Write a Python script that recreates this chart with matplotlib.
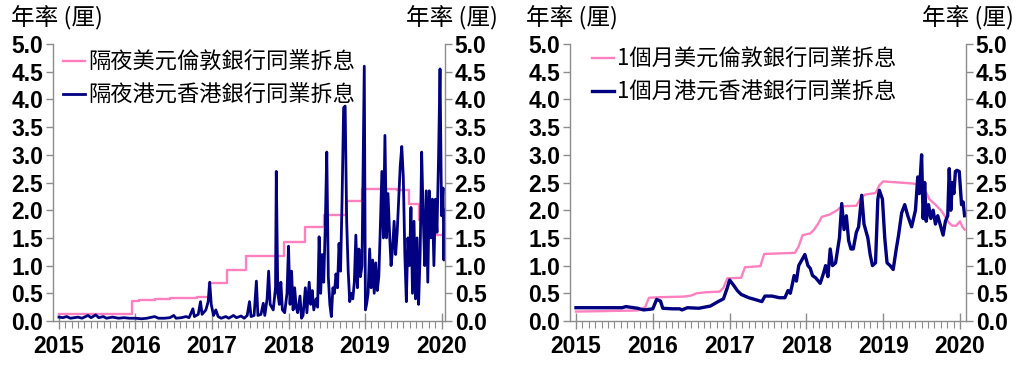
import matplotlib
matplotlib.use("Agg")
import matplotlib.pyplot as plt
from matplotlib.ticker import MultipleLocator, FixedLocator

# ---------------- data (decimal years, % per annum) ----------------
years = [2015, 2016, 2017, 2018, 2019, 2020]
y_ticks = [0.0, 0.5, 1.0, 1.5, 2.0, 2.5, 3.0, 3.5, 4.0, 4.5, 5.0]

on_usd_t = [2015.00, 2015.96, 2016.05, 2016.25, 2016.45, 2016.60, 2016.80, 2016.96,
            2017.20, 2017.45, 2017.94, 2018.22, 2018.46, 2018.75, 2018.96, 2019.30,
            2019.42, 2019.58, 2019.71, 2019.84, 2020.05]
on_usd_v = [0.13, 0.37, 0.38, 0.39, 0.41, 0.42, 0.43, 0.68,
            0.92, 1.17, 1.43, 1.69, 1.92, 2.17, 2.38, 2.39,
            2.36, 2.11, 1.83, 1.55, 1.55]

on_hkd_t = [2015.00, 2015.05, 2015.10, 2015.15, 2015.20, 2015.25, 2015.30, 2015.38, 2015.42,
            2015.48, 2015.52, 2015.58, 2015.62, 2015.70, 2015.78, 2015.85, 2015.92, 2016.00,
            2016.08, 2016.15, 2016.25, 2016.30, 2016.38, 2016.45, 2016.50, 2016.53, 2016.60,
            2016.66, 2016.70, 2016.75, 2016.77, 2016.82, 2016.85, 2016.87, 2016.92, 2016.95,
            2016.97, 2016.99, 2017.02, 2017.05, 2017.08, 2017.12, 2017.18, 2017.22, 2017.28,
            2017.32, 2017.38, 2017.42, 2017.46, 2017.49, 2017.51, 2017.55, 2017.58, 2017.60,
            2017.64, 2017.67, 2017.69, 2017.72, 2017.74, 2017.76, 2017.80, 2017.83, 2017.84,
            2017.86, 2017.88, 2017.90, 2017.92, 2017.95, 2017.98, 2018.00, 2018.02, 2018.04,
            2018.06, 2018.08, 2018.10, 2018.12, 2018.15, 2018.17, 2018.19, 2018.22, 2018.24,
            2018.27, 2018.29, 2018.31, 2018.33, 2018.36, 2018.38, 2018.40, 2018.42, 2018.44,
            2018.46, 2018.48, 2018.50, 2018.52, 2018.54, 2018.56, 2018.58, 2018.60, 2018.62,
            2018.64, 2018.66, 2018.68, 2018.70, 2018.72, 2018.74, 2018.76, 2018.78, 2018.80,
            2018.82, 2018.84, 2018.86, 2018.88, 2018.90, 2018.92, 2018.94, 2018.96, 2018.975,
            2018.99, 2019.005, 2019.02, 2019.04, 2019.06, 2019.08, 2019.10, 2019.12, 2019.14,
            2019.16, 2019.18, 2019.20, 2019.22, 2019.24, 2019.26, 2019.28, 2019.30, 2019.32,
            2019.34, 2019.36, 2019.38, 2019.40, 2019.42, 2019.44, 2019.46, 2019.48, 2019.50,
            2019.52, 2019.54, 2019.56, 2019.58, 2019.60, 2019.62, 2019.64, 2019.66, 2019.68,
            2019.70, 2019.72, 2019.74, 2019.76, 2019.78, 2019.80, 2019.82, 2019.84, 2019.86,
            2019.88, 2019.90, 2019.92, 2019.94, 2019.96, 2019.98, 2020.00, 2020.02, 2020.03,
            2020.04]
on_hkd_v = [0.07, 0.06, 0.08, 0.05, 0.06, 0.07, 0.05, 0.10, 0.06,
            0.11, 0.06, 0.08, 0.05, 0.07, 0.05, 0.06, 0.05, 0.05,
            0.04, 0.05, 0.08, 0.05, 0.05, 0.06, 0.10, 0.05, 0.06,
            0.08, 0.06, 0.22, 0.08, 0.12, 0.35, 0.12, 0.20, 0.35,
            0.70, 0.30, 0.10, 0.20, 0.08, 0.05, 0.08, 0.05, 0.10,
            0.06, 0.09, 0.05, 0.10, 0.35, 0.08, 0.10, 0.72, 0.10,
            0.12, 0.32, 0.10, 0.40, 0.90, 0.30, 0.20, 0.60, 2.70,
            0.50, 0.30, 0.70, 0.20, 0.15, 0.50, 1.35, 0.30, 0.90,
            0.20, 0.60, 0.25, 0.15, 0.45, 0.05, 0.10, 0.60, 0.15,
            0.70, 0.30, 0.55, 0.20, 0.40, 0.25, 1.52, 0.50, 1.20,
            0.70, 1.70, 3.05, 0.80, 0.30, 0.08, 0.60, 0.50, 0.85,
            0.60, 1.40, 0.90, 2.20, 3.85, 3.88, 1.80, 0.90, 0.35,
            0.50, 0.40, 0.70, 1.55, 0.60, 1.30, 0.80, 1.00, 2.85,
            4.60, 0.20, 0.30, 0.50, 1.30, 0.60, 1.10, 0.50, 1.05,
            0.55, 0.80, 1.70, 2.70, 1.50, 3.35, 1.50, 2.30, 1.60,
            1.00, 1.30, 1.80, 1.20, 1.60, 2.20, 2.80, 3.15, 2.60,
            1.20, 0.35, 1.50, 1.00, 2.05, 0.50, 1.80, 0.40, 1.50,
            0.30, 1.20, 3.05, 1.90, 1.00, 2.35, 0.70, 2.35, 1.50,
            2.20, 1.00, 2.20, 1.60, 2.90, 4.55, 1.90, 2.40, 1.10,
            2.00]

m1_usd_t = [2015.00, 2015.40, 2015.80, 2015.90, 2015.95, 2016.10, 2016.40, 2016.50,
            2016.57, 2016.70, 2016.87, 2016.92, 2016.97, 2017.15, 2017.20, 2017.40,
            2017.45, 2017.85, 2017.90, 2017.95, 2018.05, 2018.10, 2018.15, 2018.20,
            2018.30, 2018.40, 2018.46, 2018.65, 2018.70, 2018.76, 2018.90, 2018.95,
            2019.00, 2019.20, 2019.40, 2019.50, 2019.55, 2019.60, 2019.68, 2019.75,
            2019.80, 2019.85, 2019.90, 2019.95, 2020.00, 2020.03, 2020.06]
m1_usd_v = [0.17, 0.18, 0.19, 0.25, 0.42, 0.43, 0.44, 0.46,
            0.50, 0.52, 0.53, 0.60, 0.77, 0.78, 0.97, 0.99,
            1.21, 1.23, 1.35, 1.55, 1.58, 1.65, 1.75, 1.88,
            1.92, 2.00, 2.07, 2.08, 2.20, 2.28, 2.31, 2.45,
            2.52, 2.50, 2.48, 2.43, 2.35, 2.20, 2.10, 2.00,
            1.90, 1.78, 1.72, 1.72, 1.80, 1.70, 1.65]

m1_hkd_t = [2015.00, 2015.30, 2015.60, 2015.65, 2015.80, 2015.88, 2015.95, 2016.00,
            2016.05, 2016.10, 2016.13, 2016.25, 2016.35, 2016.38, 2016.45, 2016.60,
            2016.75, 2016.85, 2016.92, 2016.97, 2017.00, 2017.05, 2017.10, 2017.15,
            2017.25, 2017.35, 2017.42, 2017.46, 2017.55, 2017.65, 2017.72, 2017.76,
            2017.79, 2017.81, 2017.84, 2017.87, 2017.90, 2017.94, 2017.98, 2018.02,
            2018.05, 2018.08, 2018.12, 2018.18, 2018.22, 2018.25, 2018.28, 2018.31,
            2018.34, 2018.38, 2018.43, 2018.46, 2018.49, 2018.52, 2018.55, 2018.58,
            2018.61, 2018.65, 2018.68, 2018.72, 2018.75, 2018.80, 2018.83, 2018.86,
            2018.90, 2018.93, 2018.95, 2018.99, 2019.02, 2019.05, 2019.09, 2019.13,
            2019.17, 2019.20, 2019.24, 2019.28, 2019.32, 2019.37, 2019.42, 2019.45,
            2019.47, 2019.50, 2019.52, 2019.54, 2019.56, 2019.59, 2019.62, 2019.65,
            2019.68, 2019.71, 2019.74, 2019.78, 2019.81, 2019.84, 2019.86, 2019.88,
            2019.90, 2019.92, 2019.94, 2019.96, 2019.99, 2020.02, 2020.04, 2020.06]
m1_hkd_v = [0.24, 0.24, 0.24, 0.26, 0.23, 0.20, 0.21, 0.22,
            0.39, 0.36, 0.23, 0.22, 0.22, 0.20, 0.24, 0.23,
            0.27, 0.35, 0.40, 0.60, 0.74, 0.65, 0.55, 0.48,
            0.42, 0.38, 0.35, 0.45, 0.45, 0.42, 0.42, 0.55,
            0.50, 0.62, 0.82, 0.72, 1.00, 1.10, 1.20, 1.00,
            0.95, 0.82, 0.78, 0.68, 0.85, 1.00, 0.80, 1.30,
            1.00, 1.05, 1.50, 2.12, 1.65, 1.90, 1.45, 1.30,
            1.30, 1.60, 1.70, 2.27, 1.75, 1.50, 1.20, 1.00,
            1.05, 2.20, 2.36, 2.20, 1.50, 1.05, 1.00, 0.93,
            1.30, 1.55, 1.95, 2.10, 1.90, 1.70, 2.00, 2.60,
            2.30, 3.00, 1.85, 2.50, 1.80, 2.10, 1.85, 2.00,
            1.75, 1.90, 1.75, 1.55, 1.80, 1.90, 2.75, 2.00,
            2.50, 2.30, 2.70, 2.72, 2.70, 2.10, 2.15, 1.90]

left_labels = ["隔夜美元倫敦銀行同業拆息", "隔夜港元香港銀行同業拆息"]
right_labels = ["1個月美元倫敦銀行同業拆息", "1個月港元香港銀行同業拆息"]
unit_label = "年率 (厘)"

# ---------------- style ----------------
PINK = "#FF80BF"
NAVY = "#000080"
GREY = "#8C8C8C"
CJK = ["Noto Sans CJK TC", "DejaVu Sans"]
NUM = "Liberation Sans"
TICK_FS = 16.5

W, H = 1021, 365
fig = plt.figure(figsize=(W / 100, H / 100), dpi=100)


def px_axes(x0, x1, y_top, y_bot):
    return [x0 / W, (H - y_bot) / H, (x1 - x0) / W, (y_bot - y_top) / H]


def style(ax, xlim):
    ax.set_xlim(*xlim)
    ax.set_ylim(0, 5.0)
    ax.yaxis.set_major_locator(FixedLocator(y_ticks))
    ax.set_yticklabels([f"{v:.1f}" for v in y_ticks])
    for s in ax.spines.values():
        s.set_color(GREY)
        s.set_linewidth(1.0)
    ax.spines["top"].set_visible(False)
    ax.tick_params(axis="y", which="major", direction="out", length=5, width=1.0,
                   color=GREY, pad=2, labelsize=TICK_FS)
    for lab in ax.get_yticklabels():
        lab.set_fontfamily(NUM)
        lab.set_fontweight("bold")


def draw_panel(x0, x1, xlim, usd_t, usd_v, hkd_t, hkd_v, labels, steps, leg_anchor,
               hk_lw):
    ax = fig.add_axes(px_axes(x0, x1, 44, 321))
    ax.plot(usd_t, usd_v, color=PINK, lw=1.7, label=labels[0],
            drawstyle="steps-post" if steps else "default", zorder=2)
    ax.plot(hkd_t, hkd_v, color=NAVY, lw=hk_lw, label=labels[1], zorder=3)
    style(ax, xlim)
    ax.spines["right"].set_visible(False)
    ax.xaxis.set_major_locator(FixedLocator(years))
    ax.xaxis.set_minor_locator(MultipleLocator(1 / 12))
    ax.set_xticklabels([str(y) for y in years])
    ax.tick_params(axis="x", which="major", direction="inout", length=12, width=1.0,
                   color=GREY, pad=4, labelsize=TICK_FS)
    ax.tick_params(axis="x", which="minor", direction="out", length=5, width=0.8,
                   color=GREY)
    for lab in ax.get_xticklabels():
        lab.set_fontfamily(NUM)
        lab.set_fontweight("bold")
    axr = ax.twinx()
    style(axr, xlim)
    axr.spines["left"].set_visible(False)
    axr.spines["bottom"].set_visible(False)
    ax.legend(loc="upper left", bbox_to_anchor=leg_anchor, frameon=False,
              handlelength=1.0, handletextpad=0.15, labelspacing=0.45,
              borderaxespad=0, borderpad=0,
              prop={"family": CJK, "size": 16})
    return ax


draw_panel(53, 445, (2014.922, 2020.045), on_usd_t, on_usd_v, on_hkd_t, on_hkd_v,
           left_labels, True, (0.025, 0.975), 2.0)
draw_panel(570, 966, (2014.922, 2020.078), m1_usd_t, m1_usd_v, m1_hkd_t, m1_hkd_v,
           right_labels, False, (0.055, 0.985), 2.4)

for xp in (11, 526):
    fig.text(xp / W, 1 - 18 / H, unit_label, ha="left", va="center",
             family=CJK, fontsize=17)
for xp in (498, 1014):
    fig.text(xp / W, 1 - 18 / H, unit_label, ha="right", va="center",
             family=CJK, fontsize=17)

fig.savefig("out.png", dpi=100)
